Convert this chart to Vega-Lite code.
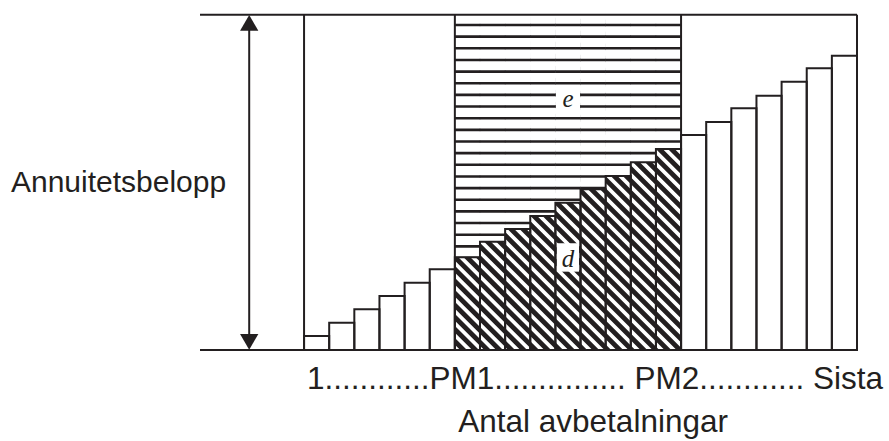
{
  "$schema": "https://vega.github.io/schema/vega-lite/v6.json",
  "width": 657,
  "height": 335.3,
  "autosize": "none",
  "padding": {"left": 200, "top": 14.7, "right": 32, "bottom": 91},
  "background": "white",
  "config": {
    "view": {"stroke": null},
    "axis": {"grid": false, "domain": false, "ticks": false, "labels": false}
  },
  "datasets": {
    "betalningar": [
      {"n": 1, "amortering": 1.04, "annuitet": 25}, {"n": 2, "amortering": 2.04, "annuitet": 25},
      {"n": 3, "amortering": 3.03, "annuitet": 25}, {"n": 4, "amortering": 4.03, "annuitet": 25},
      {"n": 5, "amortering": 5.02, "annuitet": 25}, {"n": 6, "amortering": 6.02, "annuitet": 25},
      {"n": 7, "amortering": 6.91, "annuitet": 25}, {"n": 8, "amortering": 8.08, "annuitet": 25},
      {"n": 9, "amortering": 9.02, "annuitet": 25}, {"n": 10, "amortering": 9.99, "annuitet": 25},
      {"n": 11, "amortering": 10.98, "annuitet": 25}, {"n": 12, "amortering": 11.98, "annuitet": 25},
      {"n": 13, "amortering": 12.97, "annuitet": 25}, {"n": 14, "amortering": 14.0, "annuitet": 25},
      {"n": 15, "amortering": 14.99, "annuitet": 25}, {"n": 16, "amortering": 16.03, "annuitet": 25},
      {"n": 17, "amortering": 17.0, "annuitet": 25}, {"n": 18, "amortering": 18.02, "annuitet": 25},
      {"n": 19, "amortering": 18.96, "annuitet": 25}, {"n": 20, "amortering": 20.0, "annuitet": 25},
      {"n": 21, "amortering": 21.0, "annuitet": 25}, {"n": 22, "amortering": 21.94, "annuitet": 25}
    ]
  },
  "data": {"name": "betalningar"},
  "layer": [
    {
      "data": {"values": [{}]},
      "mark": {"type": "rule", "clip": true, "color": "#231f20", "strokeWidth": 450, "strokeDash": [4.8, 3.7], "strokeCap": "butt"},
      "encoding": {
        "x": {"datum": -0.936, "type": "quantitative", "scale": {"domain": [-3.64, 22.5], "nice": false, "zero": false, "padding": 0}, "axis": null},
        "x2": {"datum": 22.936},
        "y": {"datum": -9.868, "type": "quantitative", "scale": {"domain": [0, 25], "nice": false, "zero": false, "padding": 0}, "axis": null},
        "y2": {"datum": 34.868}
      }
    },
    {
      "data": {"values": [{}]},
      "mark": {"type": "rect", "fill": "white"},
      "encoding": {
        "x": {"datum": -4.2, "type": "quantitative", "axis": null}, "x2": {"datum": 6.5},
        "y": {"datum": -0.5, "type": "quantitative", "axis": null}, "y2": {"datum": 25.5}
      }
    },
    {
      "data": {"values": [{}]},
      "mark": {"type": "rect", "fill": "white"},
      "encoding": {
        "x": {"datum": 15.5, "type": "quantitative", "axis": null}, "x2": {"datum": 23.0},
        "y": {"datum": -0.5, "type": "quantitative", "axis": null}, "y2": {"datum": 25.5}
      }
    },
    {
      "transform": [{"filter": "datum.n >= 7 && datum.n <= 15"}],
      "mark": {"type": "bar", "fill": "white"},
      "encoding": {
        "x": {"field": "n", "type": "quantitative", "axis": null},
        "y": {"field": "annuitet", "type": "quantitative", "axis": null},
        "y2": {"field": "amortering"},
        "size": {"value": 25.6}
      }
    },
    {
      "transform": [{"filter": "datum.n >= 7 && datum.n <= 15"}],
      "mark": {"type": "rule", "color": "#231f20", "strokeWidth": 25.6, "strokeDash": [2.6, 9.05], "strokeDashOffset": 2.65, "strokeCap": "butt"},
      "encoding": {
        "x": {"field": "n", "type": "quantitative", "axis": null},
        "y": {"field": "annuitet", "type": "quantitative", "axis": null},
        "y2": {"field": "amortering"}
      }
    },
    {
      "data": {"values": [{}]},
      "mark": {"type": "rect", "fill": "white"},
      "encoding": {
        "x": {"datum": 10.52, "type": "quantitative", "axis": null}, "x2": {"datum": 11.48},
        "y": {"datum": 17.9, "type": "quantitative", "axis": null}, "y2": {"datum": 19.55}
      }
    },
    {
      "data": {"values": [{}]},
      "mark": {"type": "rect", "fill": "white"},
      "encoding": {
        "x": {"datum": 10.55, "type": "quantitative", "axis": null}, "x2": {"datum": 11.44},
        "y": {"datum": 5.84, "type": "quantitative", "axis": null}, "y2": {"datum": 7.96}
      }
    },
    {
      "mark": {"type": "bar", "filled": false, "stroke": "#231f20", "strokeWidth": 2},
      "encoding": {
        "x": {"field": "n", "type": "quantitative", "axis": null},
        "y": {"field": "amortering", "type": "quantitative", "stack": null, "axis": null},
        "size": {"value": 25.134}
      }
    },
    {
      "data": {"values": [{"grense": 0.5}, {"grense": 6.5}, {"grense": 15.5}, {"grense": 22.5}]},
      "mark": {"type": "rule", "color": "#231f20", "strokeWidth": 2},
      "encoding": {
        "x": {"field": "grense", "type": "quantitative", "axis": null},
        "y": {"datum": 0, "type": "quantitative", "axis": null},
        "y2": {"datum": 25}
      }
    },
    {
      "data": {"values": [{"niva": 0}, {"niva": 25}]},
      "mark": {"type": "rule", "color": "#231f20", "strokeWidth": 2},
      "encoding": {
        "x": {"datum": -3.64, "type": "quantitative", "axis": null},
        "x2": {"datum": 22.5},
        "y": {"field": "niva", "type": "quantitative", "axis": null}
      }
    },
    {
      "data": {"values": [{}]},
      "mark": {"type": "rule", "color": "#231f20", "strokeWidth": 2},
      "encoding": {
        "x": {"datum": -1.6825, "type": "quantitative", "axis": null},
        "y": {"datum": 1, "type": "quantitative", "axis": null},
        "y2": {"datum": 24}
      }
    },
    {
      "data": {"values": [{}]},
      "mark": {"type": "point", "shape": "triangle-up", "filled": true, "color": "#231f20", "size": 335, "opacity": 1, "strokeWidth": 0, "yOffset": 8.2},
      "encoding": {
        "x": {"datum": -1.6825, "type": "quantitative", "axis": null},
        "y": {"datum": 25, "type": "quantitative", "axis": null}
      }
    },
    {
      "data": {"values": [{}]},
      "mark": {"type": "point", "shape": "triangle-down", "filled": true, "color": "#231f20", "size": 335, "opacity": 1, "strokeWidth": 0, "yOffset": -8.2},
      "encoding": {
        "x": {"datum": -1.6825, "type": "quantitative", "axis": null},
        "y": {"datum": 0, "type": "quantitative", "axis": null}
      }
    },
    {
      "data": {"values": [{"etikett": "e", "ypos": 18.14}, {"etikett": "d", "ypos": 6.21}]},
      "mark": {"type": "text", "font": "Liberation Serif", "fontStyle": "italic", "fontSize": 25, "color": "#231f20", "align": "center", "baseline": "alphabetic"},
      "encoding": {
        "x": {"datum": 11.0, "type": "quantitative", "axis": null},
        "y": {"field": "ypos", "type": "quantitative", "axis": null},
        "text": {"field": "etikett"}
      }
    },
    {
      "data": {"values": [{}]},
      "mark": {"type": "text", "font": "Liberation Sans", "fontSize": 31.5, "color": "#231f20", "align": "left", "baseline": "alphabetic", "dx": 3, "dy": 38.6},
      "encoding": {
        "x": {"datum": 0.5, "type": "quantitative", "axis": null},
        "y": {"datum": 0, "type": "quantitative", "axis": null},
        "text": {"value": "1............PM1............... PM2............ Sista"}
      }
    },
    {
      "data": {"values": [{}]},
      "mark": {"type": "text", "font": "Liberation Sans", "fontSize": 31.5, "color": "#231f20", "align": "center", "baseline": "alphabetic"},
      "encoding": {
        "x": {"datum": 12.0, "type": "quantitative", "axis": null},
        "y": {"datum": -6.077, "type": "quantitative", "axis": null},
        "text": {"value": "Antal avbetalningar"}
      }
    },
    {
      "data": {"values": [{}]},
      "mark": {"type": "text", "font": "Liberation Sans", "fontSize": 30, "color": "#231f20", "align": "left", "baseline": "alphabetic"},
      "encoding": {
        "x": {"datum": -11.16, "type": "quantitative", "axis": null},
        "y": {"datum": 11.8, "type": "quantitative", "axis": null},
        "text": {"value": "Annuitetsbelopp"}
      }
    }
  ]
}
